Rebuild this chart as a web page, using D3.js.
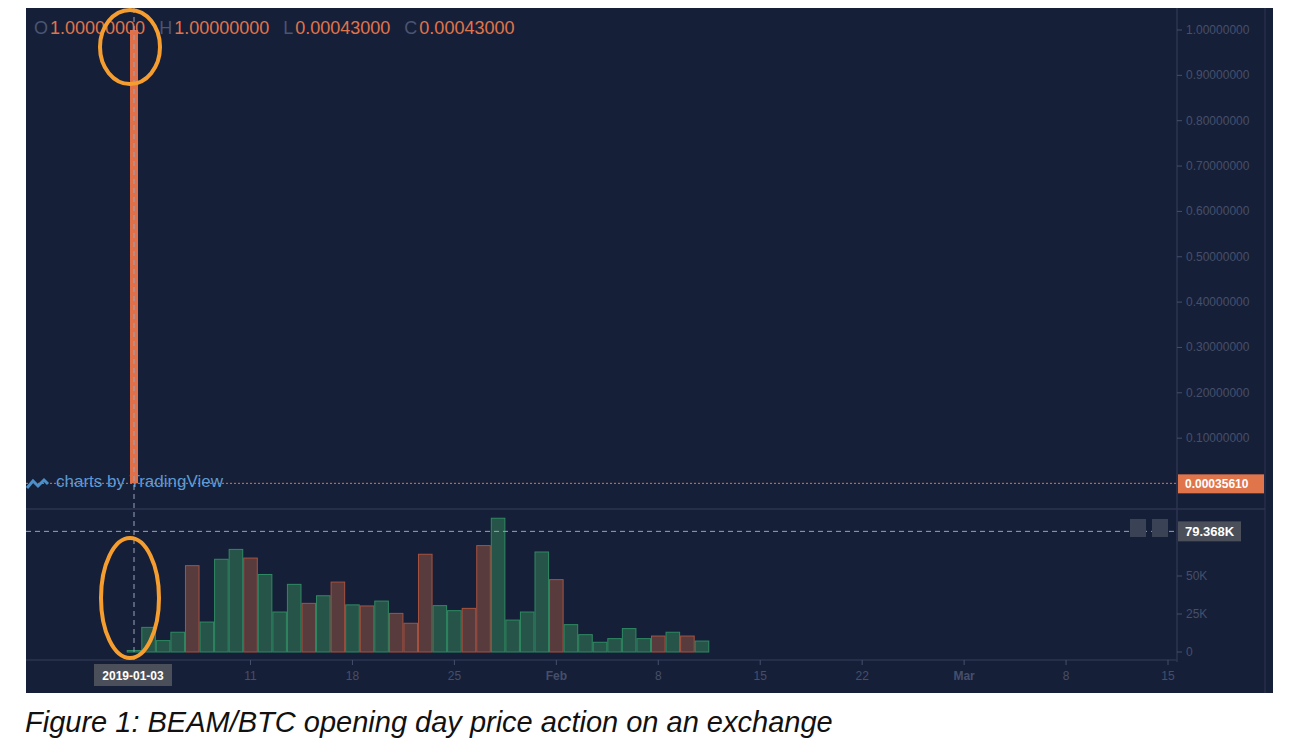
<!DOCTYPE html>
<html><head><meta charset="utf-8">
<script src="https://cdn.jsdelivr.net/npm/d3@7"></script>
<style>body{margin:0;background:#fff}svg{display:block}</style>
</head><body>
<svg id="chart" width="1296" height="750"></svg>
<script>
// volume per day starting 2019-01-03, and whether the day closed up
var volDates = d3.range(40).map(function(i){ return d3.timeDay.offset(new Date(2019,0,3), i); });
var volValues = [1,16.2,7.5,13,56.8,19.7,61,67.5,61.8,51,26.3,44.5,32,37,46,31,30.3,33.5,25.4,18.9,
  64.3,30.5,27.2,28.7,70,88,21,26.3,65.8,47.6,18,11.4,6.4,8.8,15.4,8.8,10.5,13,10.5,7.2];
var volUp = [1,1,1,1,0,1,1,1,0,1,1,1,0,1,0,1,0,1,0,0,0,1,1,0,0,1,1,1,1,0,1,1,1,1,1,1,0,1,0,1];
var priceTicks = [0.1,0.2,0.3,0.4,0.5,0.6,0.7,0.8,0.9,1.0];
var volTicks = [0,25,50];
var dateTicks = [[2019,0,11,"11"],[2019,0,18,"18"],[2019,0,25,"25"],[2019,1,1,"Feb"],[2019,1,8,"8"],
  [2019,1,15,"15"],[2019,1,22,"22"],[2019,2,1,"Mar"],[2019,2,8,"8"],[2019,2,15,"15"]];
var ohlc = {o:1.0, h:1.0, l:0.00043, c:0.00043};
var lastPrice = 0.00035610;
var crossVol = 79.368;

var svg = d3.select("#chart");
var font = "Helvetica, Arial, 'Liberation Sans', sans-serif";
var axisCol = "#454f6b";

svg.append("rect").attr("x",26).attr("y",8).attr("width",1247).attr("height",685).attr("fill","#161f38");

var x = d3.scaleTime().domain([new Date(2019,0,3), new Date(2019,2,15)]).range([134,1168]);
var yP = d3.scaleLinear().domain([0,1]).range([483.5,30]);
var yV = d3.scaleLinear().domain([0,25]).range([652,614]);
var dayW = x(new Date(2019,0,4)) - x(new Date(2019,0,3));

// frame lines
svg.append("line").attr("x1",26).attr("x2",1265).attr("y1",509).attr("y2",509).attr("stroke","#2c3550").attr("stroke-width",1.5);
svg.append("line").attr("x1",26).attr("x2",1177).attr("y1",660).attr("y2",660).attr("stroke","#2c3550").attr("stroke-width",1.5);
svg.append("line").attr("x1",1177).attr("x2",1177).attr("y1",8).attr("y2",662).attr("stroke","#2c3550").attr("stroke-width",1.5);
svg.append("line").attr("x1",1265).attr("x2",1265).attr("y1",8).attr("y2",693).attr("stroke","#2c3550").attr("stroke-width",1);

// price axis
var pa = svg.append("g").attr("font-family",font).attr("font-size",12).attr("fill",axisCol);
priceTicks.forEach(function(t){
  pa.append("line").attr("x1",1177).attr("x2",1182).attr("y1",yP(t)).attr("y2",yP(t)).attr("stroke",axisCol);
  pa.append("text").attr("x",1186).attr("y",yP(t)+4).text(d3.format(".8f")(t));
});
volTicks.forEach(function(t){
  pa.append("line").attr("x1",1177).attr("x2",1182).attr("y1",yV(t)).attr("y2",yV(t)).attr("stroke",axisCol);
  pa.append("text").attr("x",1186).attr("y",yV(t)+4).text(t===0?"0":t+"K");
});
dateTicks.forEach(function(d){
  var xx = x(new Date(d[0],d[1],d[2]));
  pa.append("line").attr("x1",xx).attr("x2",xx).attr("y1",660).attr("y2",665).attr("stroke",axisCol);
  pa.append("text").attr("x",xx).attr("y",680).attr("text-anchor","middle").attr("font-weight",d[3]=="Feb"||d[3]=="Mar"?"bold":"normal").text(d[3]);
});

// volume bars
svg.append("g").selectAll("rect").data(volValues).enter().append("rect")
  .attr("x",function(d,i){ return x(volDates[i]) - dayW/2 + 0.5; })
  .attr("width",dayW-1)
  .attr("y",function(d){ return yV(d); })
  .attr("height",function(d){ return yV(0)-yV(d); })
  .attr("fill",function(d,i){ return volUp[i] ? "#275448" : "#583b3d"; })
  .attr("stroke",function(d,i){ return volUp[i] ? "#2f8a62" : "#a8523f"; })
  .attr("stroke-width",1);

// last price line
svg.append("line").attr("x1",26).attr("x2",1177).attr("y1",yP(lastPrice)).attr("y2",yP(lastPrice))
  .attr("stroke","#e0744a").attr("stroke-dasharray","2,2").attr("stroke-width",1);

// watermark
var wm = svg.append("g").attr("font-family",font);
wm.append("path").attr("d","M27,488 l6,-7 l5,5 l6,-6 l4,4").attr("fill","none").attr("stroke","#4b8ec8").attr("stroke-width",3);
wm.append("text").attr("x",56).attr("y",487).attr("font-size",17).attr("fill","#5b9bd5").text("charts by TradingView");

// candle
var cx = x(new Date(2019,0,3));
svg.append("line").attr("x1",cx).attr("x2",cx).attr("y1",yP(ohlc.h)).attr("y2",yP(ohlc.l)).attr("stroke","#e0704a");
svg.append("rect").attr("x",cx-4).attr("width",8).attr("y",yP(ohlc.o)).attr("height",yP(ohlc.c)-yP(ohlc.o)).attr("fill","#e0704a");

// crosshair
svg.append("line").attr("x1",cx).attr("x2",cx).attr("y1",8).attr("y2",660).attr("stroke","#9aa3b8").attr("stroke-dasharray","5,4");
svg.append("line").attr("x1",26).attr("x2",1177).attr("y1",yV(crossVol)).attr("y2",yV(crossVol)).attr("stroke","#9aa3b8").attr("stroke-dasharray","5,4");
svg.append("rect").attr("x",1130).attr("y",519).attr("width",16).attr("height",18).attr("fill","#3a4356");
svg.append("rect").attr("x",1152).attr("y",519).attr("width",16).attr("height",18).attr("fill","#3a4356");

// labels
svg.append("rect").attr("x",1178).attr("y",yP(lastPrice)-9).attr("width",86).attr("height",19).attr("fill","#e0744a");
svg.append("text").attr("x",1185).attr("y",yP(lastPrice)+5).attr("font-family",font).attr("font-size",12).attr("font-weight","bold").attr("fill","#fff").text(d3.format(".8f")(lastPrice));
svg.append("rect").attr("x",1178).attr("y",yV(crossVol)-10).attr("width",63).attr("height",20).attr("fill","#4a4f5a");
svg.append("text").attr("x",1185).attr("y",yV(crossVol)+5).attr("font-family",font).attr("font-size",13).attr("font-weight","bold").attr("fill","#fff").text(crossVol+"K");
svg.append("rect").attr("x",94).attr("y",664).attr("width",78).attr("height",22).attr("fill","#4a4f5a");
svg.append("text").attr("x",133).attr("y",680).attr("text-anchor","middle").attr("font-family",font).attr("font-size",12).attr("font-weight","bold").attr("fill","#fff").text("2019-01-03");

// OHLC legend
var lg = svg.append("text").attr("x",34).attr("y",34).attr("font-family",font).attr("font-size",18);
[["O",ohlc.o],["H",ohlc.h],["L",ohlc.l],["C",ohlc.c]].forEach(function(p,i){
  lg.append("tspan").attr("dx",i?14:0).attr("fill","#4a5572").text(p[0]);
  lg.append("tspan").attr("dx",2).attr("fill","#e0744a").text(d3.format(".8f")(p[1]));
});

// annotation ellipses
svg.append("ellipse").attr("cx",130).attr("cy",47).attr("rx",30).attr("ry",37).attr("fill","none").attr("stroke","#f59e2f").attr("stroke-width",4);
svg.append("ellipse").attr("cx",130).attr("cy",598).attr("rx",29).attr("ry",60).attr("fill","none").attr("stroke","#f59e2f").attr("stroke-width",4);

// caption
svg.append("text").attr("x",25).attr("y",732).attr("font-family","Arial, 'Liberation Sans', sans-serif").attr("font-style","italic").attr("font-size",29).attr("fill","#111")
  .text("Figure 1: BEAM/BTC opening day price action on an exchange");
</script>
</body></html>
